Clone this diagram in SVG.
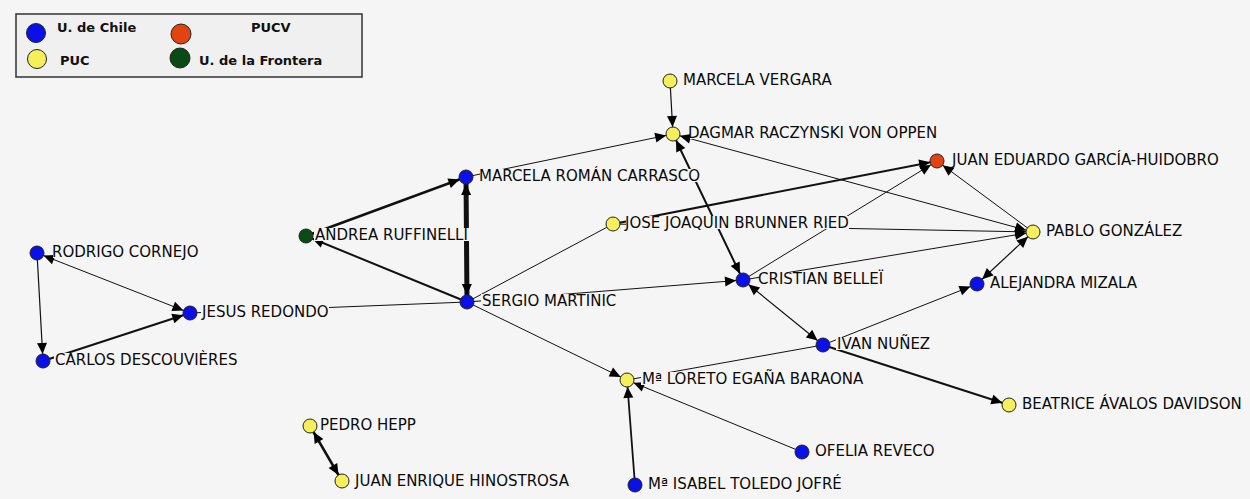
<svg xmlns="http://www.w3.org/2000/svg" width="1250" height="499" viewBox="0 0 1250 499">
<style>
.bg{fill:#f5f5f5}
.m{fill:#f5f5f5}
.e{stroke:#111;fill:none;stroke-linecap:round}
.n{stroke:#222;stroke-width:1}
.blue{fill:#0a10e8}.yel{fill:#f4ef5a}.red{fill:#e2430f}.grn{fill:#0b4a12}
.lbl{font-family:"DejaVu Sans",Verdana,sans-serif;font-size:15px;fill:#0a0a0a}
.leg{font-family:"DejaVu Sans",Verdana,sans-serif;font-size:13px;font-weight:bold;fill:#111}
</style>
<defs>
<marker id="ah" markerUnits="userSpaceOnUse" orient="auto-start-reverse" markerWidth="1" markerHeight="1" refX="0" refY="0" overflow="visible">
<path d="M-18,-5 L-7,0 L-18,5 z" fill="#000"/>
</marker>
</defs>
<rect class="bg" x="0" y="0" width="1250" height="499"/>
<g id="legend">
<rect x="16" y="14" width="346" height="63" fill="#f0f0f0" stroke="#333" stroke-width="1.5"/>
<circle class="n blue" cx="36" cy="33" r="9.5"/>
<text class="leg" x="57" y="32">U. de Chile</text>
<circle class="n yel" cx="37" cy="59" r="9.5"/>
<text class="leg" x="60" y="65">PUC</text>
<circle class="n red" cx="181" cy="34" r="10"/>
<text class="leg" x="251" y="32">PUCV</text>
<circle class="n grn" cx="180" cy="58" r="10"/>
<text class="leg" x="199" y="65">U. de la Frontera</text>
</g>
<g id="connectors">
<line class="e" x1="670" y1="81" x2="673" y2="134" stroke-width="1.2" marker-end="url(#ah)"/>
<line class="e" x1="466" y1="177" x2="673" y2="134" stroke-width="1" marker-end="url(#ah)"/>
<line class="e" x1="673" y1="134" x2="743" y2="280" stroke-width="2" marker-start="url(#ah)" marker-end="url(#ah)"/>
<line class="e" x1="673" y1="134" x2="1033" y2="232" stroke-width="1" marker-start="url(#ah)" marker-end="url(#ah)"/>
<line class="e" x1="613" y1="224" x2="937" y2="161" stroke-width="2" marker-end="url(#ah)"/>
<line class="e" x1="743" y1="280" x2="937" y2="161" stroke-width="1" marker-end="url(#ah)"/>
<line class="e" x1="1033" y1="232" x2="937" y2="161" stroke-width="1" marker-end="url(#ah)"/>
<line class="e" x1="743" y1="280" x2="1033" y2="232" stroke-width="1" marker-end="url(#ah)"/>
<line class="e" x1="613" y1="224" x2="1033" y2="232" stroke-width="1" marker-end="url(#ah)"/>
<line class="e" x1="467" y1="302" x2="743" y2="280" stroke-width="1.2" marker-end="url(#ah)"/>
<line class="e" x1="823" y1="345" x2="743" y2="280" stroke-width="1.2" marker-start="url(#ah)" marker-end="url(#ah)"/>
<line class="e" x1="823" y1="345" x2="977" y2="284" stroke-width="1" marker-end="url(#ah)"/>
<line class="e" x1="977" y1="284" x2="1033" y2="232" stroke-width="1.2" marker-start="url(#ah)" marker-end="url(#ah)"/>
<line class="e" x1="823" y1="345" x2="1009" y2="405" stroke-width="2" marker-end="url(#ah)"/>
<line class="e" x1="823" y1="345" x2="627" y2="380" stroke-width="1"/>
<line class="e" x1="467" y1="302" x2="627" y2="380" stroke-width="1" marker-end="url(#ah)"/>
<line class="e" x1="635" y1="485" x2="627" y2="380" stroke-width="1.8" marker-end="url(#ah)"/>
<line class="e" x1="802" y1="452" x2="627" y2="380" stroke-width="1" marker-end="url(#ah)"/>
<line class="e" x1="467" y1="302" x2="306" y2="236" stroke-width="2" marker-end="url(#ah)"/>
<line class="e" x1="306" y1="236" x2="466" y2="177" stroke-width="2.5" marker-end="url(#ah)"/>
<line class="e" x1="466" y1="177" x2="467" y2="302" stroke-width="5" marker-start="url(#ah)" marker-end="url(#ah)"/>
<line class="e" x1="467" y1="302" x2="613" y2="224" stroke-width="1"/>
<line class="e" x1="467" y1="302" x2="190" y2="313" stroke-width="1"/>
<line class="e" x1="37" y1="253" x2="190" y2="313" stroke-width="1" marker-start="url(#ah)" marker-end="url(#ah)"/>
<line class="e" x1="43" y1="361" x2="190" y2="313" stroke-width="2" marker-end="url(#ah)"/>
<line class="e" x1="37" y1="253" x2="43" y2="361" stroke-width="1.2" marker-end="url(#ah)"/>
<line class="e" x1="310" y1="426" x2="342" y2="481" stroke-width="2.5" marker-start="url(#ah)" marker-end="url(#ah)"/>
</g>
<g id="n-mv"><circle class="n yel" cx="670" cy="81" r="7"/><rect class="m" x="684" y="73" width="148" height="13"/><text class="lbl" x="683" y="85">MARCELA VERGARA</text></g>
<g id="n-dr"><circle class="n yel" cx="673" cy="134" r="7"/><rect class="m" x="690" y="126" width="248" height="13"/><text class="lbl" x="688" y="138">DAGMAR RACZYNSKI VON OPPEN</text></g>
<g id="n-jeg"><circle class="n red" cx="937" cy="161" r="7"/><rect class="m" x="953" y="153" width="266" height="13"/><text class="lbl" x="952" y="165">JUAN EDUARDO GARCÍA-HUIDOBRO</text></g>
<g id="n-mrc"><circle class="n blue" cx="466" cy="177" r="7"/><rect class="m" x="480" y="169" width="221" height="13"/><text class="lbl" x="479" y="181">MARCELA ROMÁN CARRASCO</text></g>
<g id="n-jjb"><circle class="n yel" cx="613" cy="224" r="7"/><rect class="m" x="626" y="216" width="223" height="13"/><text class="lbl" x="625" y="228">JOSE JOAQUIN BRUNNER RIED</text></g>
<g id="n-ar"><circle class="n grn" cx="306" cy="236" r="7"/><rect class="m" x="314" y="228" width="155" height="13"/><text class="lbl" x="315" y="240">ANDREA RUFFINELLI</text></g>
<g id="n-pg"><circle class="n yel" cx="1033" cy="232" r="7"/><rect class="m" x="1047" y="224" width="135" height="13"/><text class="lbl" x="1046" y="236">PABLO GONZÁLEZ</text></g>
<g id="n-rc"><circle class="n blue" cx="37" cy="253" r="7"/><rect class="m" x="53" y="245" width="146" height="13"/><text class="lbl" x="52" y="257">RODRIGO CORNEJO</text></g>
<g id="n-cb"><circle class="n blue" cx="743" cy="280" r="7"/><rect class="m" x="759" y="272" width="126" height="13"/><text class="lbl" x="758" y="284">CRISTIAN BELLEÏ</text></g>
<g id="n-am"><circle class="n blue" cx="977" cy="284" r="7"/><rect class="m" x="991" y="276" width="147" height="13"/><text class="lbl" x="990" y="288">ALEJANDRA MIZALA</text></g>
<g id="n-jr"><circle class="n blue" cx="190" cy="313" r="7"/><rect class="m" x="201" y="305" width="128" height="13"/><text class="lbl" x="202" y="317">JESUS REDONDO</text></g>
<g id="n-sm"><circle class="n blue" cx="467" cy="302" r="7"/><rect class="m" x="481" y="294" width="136" height="13"/><text class="lbl" x="482" y="306">SERGIO MARTINIC</text></g>
<g id="n-in"><circle class="n blue" cx="823" cy="345" r="7"/><rect class="m" x="836" y="337" width="95" height="13"/><text class="lbl" x="837" y="349">IVAN NUÑEZ</text></g>
<g id="n-cd"><circle class="n blue" cx="43" cy="361" r="7"/><rect class="m" x="54" y="353" width="184" height="13"/><text class="lbl" x="55" y="365">CARLOS DESCOUVIÈRES</text></g>
<g id="n-le"><circle class="n yel" cx="627" cy="380" r="7"/><rect class="m" x="641" y="372" width="223" height="13"/><text class="lbl" x="642" y="384">Mª LORETO EGAÑA BARAONA</text></g>
<g id="n-ba"><circle class="n yel" cx="1009" cy="405" r="7"/><rect class="m" x="1021" y="397" width="221" height="13"/><text class="lbl" x="1022" y="409">BEATRICE ÁVALOS DAVIDSON</text></g>
<g id="n-ph"><circle class="n yel" cx="310" cy="426" r="7"/><rect class="m" x="319" y="418" width="98" height="13"/><text class="lbl" x="320" y="430">PEDRO HEPP</text></g>
<g id="n-or"><circle class="n blue" cx="802" cy="452" r="7"/><rect class="m" x="814" y="444" width="121" height="13"/><text class="lbl" x="815" y="456">OFELIA REVECO</text></g>
<g id="n-jeh"><circle class="n yel" cx="342" cy="481" r="7"/><rect class="m" x="354" y="474" width="215" height="13"/><text class="lbl" x="355" y="486">JUAN ENRIQUE HINOSTROSA</text></g>
<g id="n-it"><circle class="n blue" cx="635" cy="485" r="7"/><rect class="m" x="647" y="477" width="196" height="13"/><text class="lbl" x="648" y="489">Mª ISABEL TOLEDO JOFRÉ</text></g>
</svg>
